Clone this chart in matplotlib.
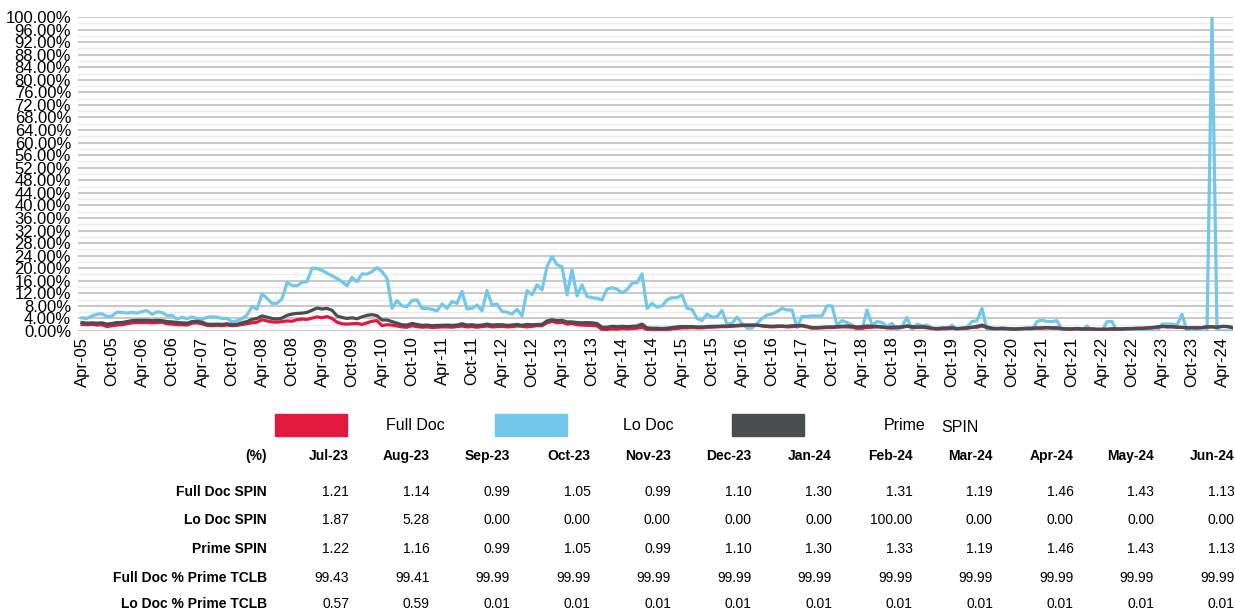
import numpy as np
import pandas as pd
import matplotlib
matplotlib.use('Agg')
from matplotlib import pyplot as plt
from matplotlib.patches import Rectangle
from matplotlib.ticker import MultipleLocator, FuncFormatter

plt.rcParams['font.family'] = ['Liberation Sans', 'DejaVu Sans']

# monthly series, Apr-05 .. Jun-24 (%)
months = pd.date_range('2005-04-01', '2024-06-01', freq='MS')

lo_doc = [
    4.2, 4.0, 4.8, 5.3, 5.5, 4.6, 4.8, 6.0, 5.9, 5.7,
    5.9, 5.7, 6.2, 6.5, 5.3, 6.1, 5.9, 4.9, 5.0, 3.8,
    4.4, 3.9, 4.5, 4.0, 3.7, 4.4, 4.5, 4.4, 4.0, 4.0,
    2.9, 3.2, 3.9, 5.1, 7.8, 6.9, 11.8, 10.4, 8.8, 8.8,
    10.2, 15.4, 14.5, 14.4, 15.5, 15.7, 20.0, 19.9, 19.3, 18.4,
    17.6, 16.7, 15.7, 14.4, 17.1, 15.7, 18.2, 18.1, 18.9, 20.2,
    18.9, 16.8, 7.2, 9.7, 8.0, 7.8, 9.7, 9.9, 7.2, 7.2,
    6.9, 6.4, 8.6, 7.2, 9.4, 8.8, 12.6, 7.0, 7.2, 8.3,
    6.4, 12.9, 8.3, 8.6, 6.2, 6.0, 5.4, 6.9, 4.8, 12.9,
    11.5, 14.7, 13.1, 20.5, 23.7, 21.1, 20.5, 11.5, 19.5, 11.2,
    14.7, 11.0, 10.6, 10.4, 9.9, 13.3, 13.8, 13.3, 12.2, 13.1,
    15.2, 15.4, 18.2, 7.2, 8.8, 7.6, 8.0, 9.9, 10.6, 10.6,
    11.5, 7.2, 6.9, 4.0, 3.3, 5.4, 4.4, 4.6, 6.5, 2.2,
    2.4, 4.4, 2.4, 0.9, 0.9, 2.4, 4.0, 5.1, 5.4, 6.2,
    7.2, 6.7, 6.7, 1.1, 4.6, 4.6, 4.8, 4.8, 4.8, 8.0,
    8.0, 1.9, 3.3, 2.7, 1.9, 0.3, 0.3, 6.7, 1.9, 3.0,
    2.7, 1.4, 2.4, 0.3, 1.4, 4.3, 0.3, 2.2, 1.6, 1.9,
    0.9, 0.3, 1.1, 0.3, 1.9, 0.3, 0.9, 1.2, 3.0, 3.3,
    7.2, 0.3, 0.0, 0.0, 0.0, 0.0, 0.0, 0.0, 0.1, 0.3,
    0.3, 3.0, 3.5, 3.0, 3.0, 3.3, 0.3, 0.0, 0.0, 0.0,
    0.0, 1.6, 0.0, 0.0, 0.0, 3.0, 3.0, 0.0, 0.0, 0.0,
    0.0, 0.0, 0.0, 0.0, 0.0, 0.0, 2.2, 2.2, 2.2,
    1.87, 5.28, 0.00, 0.00, 0.00, 0.00, 0.00, 100.00, 0.00, 0.00, 0.00, 0.00,
]

full_doc = [
    2.1, 2.0, 2.1, 1.9, 2.0, 1.4, 1.7, 1.9, 2.0, 2.3,
    2.6, 2.7, 2.7, 2.7, 2.6, 2.7, 2.8, 2.3, 2.2, 2.0,
    2.0, 1.9, 2.5, 2.6, 2.3, 1.8, 1.7, 1.8, 1.7, 1.9,
    1.7, 1.8, 2.1, 2.3, 2.6, 2.8, 3.6, 3.2, 2.9, 2.8,
    3.0, 3.2, 3.1, 3.6, 3.8, 3.7, 4.1, 4.5, 4.2, 4.6,
    4.0, 2.8, 2.3, 2.2, 2.3, 2.4, 2.1, 2.6, 3.1, 3.3,
    1.7, 2.0, 1.9, 1.6, 1.3, 1.2, 1.7, 1.4, 1.2, 1.3,
    1.1, 1.2, 1.3, 1.3, 1.2, 1.4, 1.6, 1.3, 1.4, 1.2,
    1.4, 1.6, 1.3, 1.4, 1.5, 1.3, 1.4, 1.6, 1.5, 1.3,
    1.5, 1.7, 1.7, 2.6, 3.1, 2.6, 2.8, 2.2, 2.4, 2.0,
    1.9, 1.8, 1.8, 1.6, 0.5, 0.5, 0.7, 0.6, 0.8, 0.7,
    0.8, 0.9, 1.2, 0.5, 0.4, 0.4, 0.3, 0.4, 0.7, 0.8,
    1.0, 1.0, 1.1, 1.0, 1.0, 1.2, 1.2, 1.3, 1.4, 1.4,
    1.5, 1.6, 1.7, 1.8, 1.8, 1.8, 1.6, 1.4, 1.3, 1.4,
    1.5, 1.3, 1.4, 1.5, 1.6, 1.3, 0.9, 0.9, 1.0, 1.1,
    1.1, 1.2, 1.3, 1.3, 1.2, 0.9, 0.9, 1.1, 1.2, 1.3,
    1.2, 1.0, 0.9, 1.1, 1.2, 1.5, 1.2, 1.1, 1.2, 1.0,
    0.8, 0.6, 0.7, 0.8, 0.9, 0.7, 0.8, 0.9, 1.1, 1.2,
    1.6, 1.1, 0.8, 0.7, 0.8, 0.7, 0.6, 0.6, 0.7, 0.8,
    0.8, 0.9, 0.9, 1.0, 0.9, 0.9, 0.7, 0.6, 0.6, 0.7,
    0.6, 0.6, 0.6, 0.5, 0.5, 0.5, 0.6, 0.6, 0.6, 0.7,
    0.7, 0.8, 0.8, 0.9, 1.0, 1.2, 1.4, 1.3, 1.3,
    1.21, 1.14, 0.99, 1.05, 0.99, 1.10, 1.30, 1.31, 1.19, 1.46, 1.43, 1.13,
]

prime = [
    2.7, 2.5, 2.6, 2.5, 2.6, 2.2, 2.4, 2.7, 2.7, 3.0,
    3.3, 3.4, 3.4, 3.4, 3.3, 3.4, 3.3, 3.0, 2.9, 2.7,
    2.6, 2.5, 3.0, 3.1, 2.8, 2.2, 2.1, 2.2, 2.1, 2.3,
    2.0, 2.1, 2.6, 3.0, 3.7, 4.0, 4.8, 4.4, 4.0, 3.8,
    4.1, 5.0, 5.4, 5.6, 5.7, 5.9, 6.6, 7.3, 7.0, 7.2,
    6.6, 4.8, 4.3, 4.0, 4.2, 3.9, 4.5, 5.0, 5.2, 4.9,
    3.5, 3.5, 3.0, 2.5, 2.0, 1.9, 2.4, 2.1, 1.8, 1.9,
    1.7, 1.8, 1.8, 1.9, 1.8, 1.9, 2.3, 1.9, 2.0, 1.8,
    1.9, 2.2, 1.9, 2.0, 2.0, 1.8, 1.9, 2.1, 1.8, 2.1,
    2.0, 2.1, 2.1, 3.2, 3.6, 3.3, 3.4, 2.9, 2.9, 2.7,
    2.6, 2.7, 2.6, 2.4, 1.2, 1.2, 1.5, 1.4, 1.5, 1.4,
    1.5, 1.6, 2.2, 1.0, 0.9, 0.9, 0.8, 0.9, 1.1, 1.3,
    1.4, 1.4, 1.4, 1.3, 1.3, 1.4, 1.5, 1.5, 1.6, 1.6,
    1.7, 1.8, 1.9, 1.9, 1.9, 1.9, 1.7, 1.6, 1.5, 1.6,
    1.6, 1.5, 1.7, 1.7, 1.8, 1.5, 1.1, 1.1, 1.2, 1.3,
    1.3, 1.4, 1.5, 1.6, 1.5, 1.3, 1.4, 1.6, 1.5, 1.5,
    1.3, 1.1, 1.2, 1.3, 1.3, 1.6, 1.4, 1.3, 1.4, 1.2,
    0.9, 0.8, 0.9, 1.0, 1.0, 0.8, 0.9, 1.0, 1.2, 1.5,
    1.9, 1.3, 0.9, 0.8, 0.9, 0.8, 0.7, 0.7, 0.8, 0.9,
    0.9, 1.0, 1.0, 1.1, 1.0, 1.0, 0.8, 0.7, 0.7, 0.8,
    0.7, 0.7, 0.7, 0.6, 0.6, 0.6, 0.7, 0.7, 0.7, 0.8,
    0.8, 0.9, 0.9, 1.0, 1.1, 1.3, 1.5, 1.4, 1.4,
    1.22, 1.16, 0.99, 1.05, 0.99, 1.10, 1.30, 1.33, 1.19, 1.46, 1.43, 1.13,
]

# table under the chart
table_months = ['Jul-23', 'Aug-23', 'Sep-23', 'Oct-23', 'Nov-23', 'Dec-23',
                'Jan-24', 'Feb-24', 'Mar-24', 'Apr-24', 'May-24', 'Jun-24']
row_labels = ['Full Doc SPIN', 'Lo Doc SPIN', 'Prime SPIN',
              'Full Doc % Prime TCLB', 'Lo Doc % Prime TCLB']
full_doc_spin = [1.21, 1.14, 0.99, 1.05, 0.99, 1.10, 1.30, 1.31, 1.19, 1.46, 1.43, 1.13]
lo_doc_spin = [1.87, 5.28, 0.00, 0.00, 0.00, 0.00, 0.00, 100.00, 0.00, 0.00, 0.00, 0.00]
prime_spin = [1.22, 1.16, 0.99, 1.05, 0.99, 1.10, 1.30, 1.33, 1.19, 1.46, 1.43, 1.13]
full_doc_tclb = [99.43, 99.41, 99.99, 99.99, 99.99, 99.99, 99.99, 99.99, 99.99, 99.99, 99.99, 99.99]
lo_doc_tclb = [0.57, 0.59, 0.01, 0.01, 0.01, 0.01, 0.01, 0.01, 0.01, 0.01, 0.01, 0.01]

red = '#e4173e'
blue = '#72c7ea'
grey = '#4a4d50'

W, H = 1235, 609
fig = plt.figure(figsize=(W / 100, H / 100), dpi=100)
ax = fig.add_axes([78 / W, 1 - 331 / H, (1233 - 78) / W, (331 - 17) / H])

x = np.arange(len(months))
ax.plot(x, lo_doc, color=blue, lw=2.3, zorder=3)
ax.plot(x, full_doc, color=red, lw=2.3, zorder=4)
ax.plot(x, prime, color=grey, lw=2.3, zorder=5)

ax.set_ylim(0, 100)
ax.set_xlim(-0.8, len(months) - 0.8)
ax.yaxis.set_major_locator(MultipleLocator(4))
ax.yaxis.set_minor_locator(MultipleLocator(2))
ax.yaxis.set_major_formatter(FuncFormatter(lambda v, p: f'{v:.2f}%'))
ax.grid(axis='y', which='major', color='#c4c4c4', lw=1.3, zorder=0)
ax.grid(axis='y', which='minor', color='#ececec', lw=1.0, zorder=0)
ax.set_axisbelow(True)

tick_pos = x[::6]
ax.set_xticks(tick_pos)
ax.set_xticklabels([months[i].strftime('%b-%y') for i in tick_pos],
                   rotation=90, fontsize=12)
ax.tick_params(axis='y', which='both', length=0, labelsize=12, pad=5)
ax.tick_params(axis='x', length=0, pad=4)
for s in ax.spines.values():
    s.set_visible(False)

# legend row
def fy(py):
    return 1 - py / H

legend_items = [(red, 275, 'Full Doc', 386), (blue, 495, 'Lo Doc', 623),
                (grey, 732, 'Prime', 884)]
for col, sx, lab, tx in legend_items:
    fig.patches.append(Rectangle((sx / W, fy(436)), 72 / W, 22 / H,
                                 transform=fig.transFigure, color=col))
    fig.text(tx / W, fy(425), lab, fontsize=11.5, va='center', ha='left')
fig.text(941 / W, fy(427), 'SPIN', fontsize=11.5, va='center', ha='left')

# table
label_x = 267 / W
col_right = [(349 + 80.5 * i) / W for i in range(len(table_months))]
fig.text(label_x, fy(456), '(%)', fontsize=10, fontweight='bold',
         ha='right', va='center')
for cx, m in zip(col_right, table_months):
    fig.text(cx, fy(456), m, fontsize=10, fontweight='bold',
             ha='right', va='center')

rows = [full_doc_spin, lo_doc_spin, prime_spin, full_doc_tclb, lo_doc_tclb]
row_y = [492, 520, 549, 578, 604]
for ry, lab, vals in zip(row_y, row_labels, rows):
    fig.text(label_x, fy(ry), lab, fontsize=10, fontweight='bold',
             ha='right', va='center')
    for cx, v in zip(col_right, vals):
        fig.text(cx, fy(ry), f'{v:.2f}', fontsize=10,
                 ha='right', va='center')

fig.savefig('out.png', dpi=100)
